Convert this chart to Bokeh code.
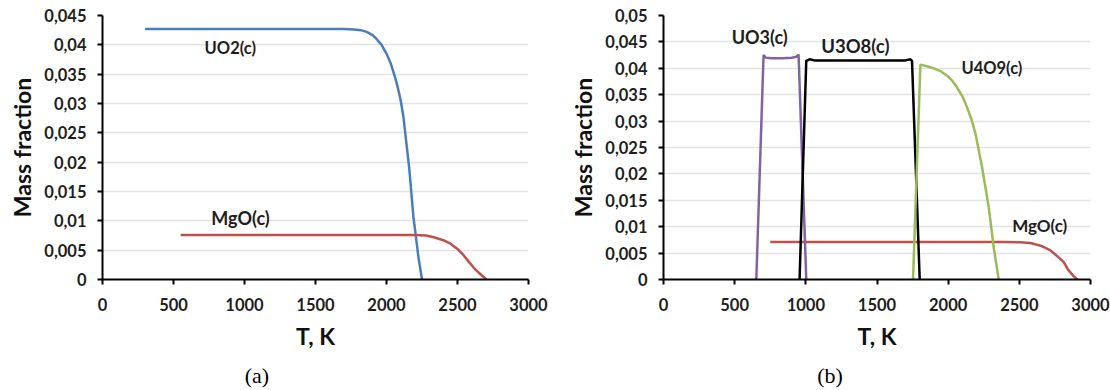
from bokeh.plotting import figure
from bokeh.layouts import row, column
from bokeh.models import Range1d, FixedTicker, CustomJSTickFormatter, Label, Div
from bokeh.embed import file_html
from bokeh.resources import INLINE

# ---------- data: panel (a) ----------
uo2_a_T = [300, 1000, 1700, 1770, 1820, 1860, 1900, 1930, 1965, 2000, 2030, 2060, 2080, 2100, 2120, 2135, 2160, 2190, 2225, 2250]
uo2_a_y = [0.0427, 0.0427, 0.0427, 0.0426, 0.0425, 0.0422, 0.0417, 0.0410, 0.0400, 0.0385, 0.0368, 0.0345, 0.0327, 0.0305, 0.0276, 0.0243, 0.0190, 0.0106, 0.0038, 0.0]
mgo_a_T = [550, 1500, 2200, 2280, 2333, 2400, 2451, 2500, 2544, 2580, 2615, 2640, 2662, 2704]
mgo_a_y = [0.0076, 0.0076, 0.0076, 0.0075, 0.0072, 0.0067, 0.0061, 0.0052, 0.0041, 0.0030, 0.0020, 0.0014, 0.0009, 0.0]

# ---------- data: panel (b) ----------
uo3_b_T = [652, 703, 720, 760, 840, 900, 935, 949, 1003]
uo3_b_y = [0.0, 0.0425, 0.0420, 0.0419, 0.0419, 0.0420, 0.0422, 0.0426, 0.0]
u3o8_b_T = [956, 1003, 1026, 1060, 1400, 1700, 1734, 1746, 1800]
u3o8_b_y = [0.0, 0.0414, 0.0417, 0.0415, 0.0415, 0.0415, 0.0417, 0.0414, 0.0]
u4o9_b_T = [1753, 1805, 1850, 1898, 1950, 1992, 2030, 2062, 2100, 2133, 2165, 2192, 2238, 2285, 2320, 2355]
u4o9_b_y = [0.0, 0.0407, 0.0404, 0.0400, 0.0394, 0.0386, 0.0376, 0.0364, 0.0347, 0.0326, 0.0302, 0.0276, 0.0213, 0.0137, 0.0061, 0.0]
mgo_b_T = [750, 1500, 2400, 2500, 2578, 2650, 2719, 2780, 2812, 2847, 2880, 2906]
mgo_b_y = [0.0071, 0.0071, 0.0071, 0.00705, 0.0069, 0.0064, 0.0055, 0.0041, 0.0033, 0.0017, 0.0007, 0.0]

x_ticks = [0, 500, 1000, 1500, 2000, 2500, 3000]
y_ticks_a = [0, 0.005, 0.01, 0.015, 0.02, 0.025, 0.03, 0.035, 0.04, 0.045]
y_ticks_b = [0, 0.005, 0.01, 0.015, 0.02, 0.025, 0.03, 0.035, 0.04, 0.045, 0.05]
captions = ["(a)", "(b)"]

BLUE = "#4a7ebb"
RED = "#c0504d"
PURPLE = "#8064a2"
GREEN = "#9bbb59"
BLACK = "#000000"
TXT = "#1e1e1e"
FONT = "Lato"

fmt = CustomJSTickFormatter(code="return String(Math.round(tick*1000)/1000).replace('.', ',');")


def make_fig(ymax, yticks, mb_left, mb_right, width_frame):
    p = figure(frame_width=width_frame, frame_height=264,
               min_border_left=mb_left, min_border_right=mb_right,
               min_border_top=15, min_border_bottom=80,
               x_range=Range1d(0, 3000), y_range=Range1d(0, ymax),
               output_backend="svg", toolbar_location=None)
    p.outline_line_color = None
    p.xgrid.grid_line_color = None
    p.ygrid.grid_line_color = "#e3e3e3"
    p.ygrid.grid_line_width = 1.5
    p.xaxis.ticker = FixedTicker(ticks=x_ticks)
    p.yaxis.ticker = FixedTicker(ticks=yticks)
    p.yaxis.formatter = fmt
    for ax in (p.xaxis[0], p.yaxis[0]):
        ax.axis_line_color = BLACK
        ax.axis_line_width = 2
        ax.major_tick_line_color = BLACK
        ax.major_tick_line_width = 2
        ax.major_tick_out = 5
        ax.major_tick_in = 0
        ax.minor_tick_line_color = None
        ax.major_label_text_font = FONT
        ax.major_label_text_font_style = "bold"
        ax.major_label_text_font_size = "16.5px"
        ax.major_label_text_color = TXT
        ax.axis_label_text_font = FONT
        ax.axis_label_text_font_style = "bold"
        ax.axis_label_text_font_size = "23px"
        ax.axis_label_text_color = "#111111"
    p.xaxis.axis_label = "T, K"
    p.yaxis.axis_label = "Mass fraction"
    p.xaxis.major_label_standoff = 13
    p.yaxis.major_label_standoff = 11
    p.xaxis.axis_label_standoff = 8
    p.yaxis.axis_label_standoff = 5
    return p


def add_label(p, x, y, text, size):
    p.add_layout(Label(x=x, y=y, text=text, text_font=FONT, text_font_style="bold",
                       text_font_size=size, text_color=TXT,
                       text_align="center", text_baseline="middle"))


# panel (a)
pa = make_fig(0.045, y_ticks_a, 102, 38, 426)
pa.line(uo2_a_T, uo2_a_y, line_color=BLUE, line_width=2.5)
pa.line(mgo_a_T, mgo_a_y, line_color=RED, line_width=2.5)
add_label(pa, 900, 0.0395, "UO2(c)", "16.5px")
add_label(pa, 972, 0.0104, "MgO(c)", "18px")

# panel (b)
pb = make_fig(0.05, y_ticks_b, 94, 20, 427)
pb.line(mgo_b_T, mgo_b_y, line_color=RED, line_width=2.5)
pb.line(uo3_b_T, uo3_b_y, line_color=PURPLE, line_width=2.5)
pb.line(u3o8_b_T, u3o8_b_y, line_color=BLACK, line_width=2.5)
pb.line(u4o9_b_T, u4o9_b_y, line_color=GREEN, line_width=2.5)
add_label(pb, 676, 0.0459, "UO3(c)", "18px")
add_label(pb, 1348, 0.0443, "U3O8(c)", "18.5px")
add_label(pb, 2307, 0.0400, "U4O9(c)", "16.5px")
add_label(pb, 2643, 0.0102, "MgO(c)", "17px")

cap_style = ("position:absolute;top:4px;width:100px;text-align:center;"
             "font-family:'Liberation Serif';font-size:22px;line-height:26px;color:#000;")
cap_html = ('<div style="position:relative;width:1100px;height:30px;">'
            f'<div style="{cap_style}left:207px;">{captions[0]}</div>'
            f'<div style="{cap_style}left:780px;">{captions[1]}</div>'
            '</div>')
caps = Div(text=cap_html, width=1100, height=30, margin=0)

layout = column(row(pa, pb), caps)
open("out.html", "w").write(file_html(layout, INLINE))
